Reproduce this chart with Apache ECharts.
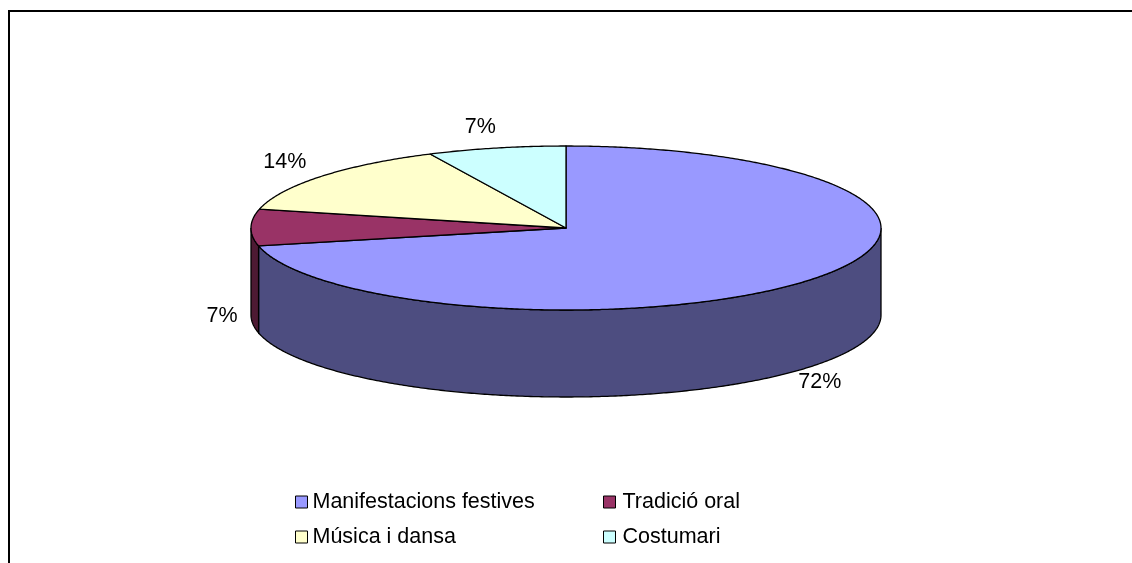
<!DOCTYPE html>
<html>
<head>
<meta charset="utf-8">
<title>Pie</title>
<script src="https://cdn.jsdelivr.net/npm/echarts@6/dist/echarts.min.js"></script>
<style>
html, body { margin: 0; padding: 0; background: #fff; }
#chart { width: 1132px; height: 563px; }
</style>
</head>
<body>
<div id="chart"></div>
<script>
const categories = ['Manifestacions festives', 'Tradició oral', 'Música i dansa', 'Costumari'];
// they round to the printed labels
const shares = [71.5, 7.2, 14.2, 7.1];
const topColors = ['#9999ff', '#993366', '#ffffcc', '#ccffff'];
const sideColors = ['#4d4d80', '#4d1a33', '#808066', '#668080'];
const labelShift = [[8, 16], [-29, 2], [-36, -14], [-16, -21]];

// the tilted disc
const cx = 566, cy = 228, rx = 315, ry = 82, depth = 87;
const total = shares.reduce((a, b) => a + b, 0);

function rim(deg, drop) {
    const t = deg * Math.PI / 180;
    return [cx + rx * Math.sin(t), cy - ry * Math.cos(t) + (drop || 0)];
}

function arcPoints(from, to, drop) {
    const pts = [];
    const steps = Math.max(2, Math.ceil(Math.abs(to - from) * 2));
    for (let i = 0; i <= steps; i++) {
        pts.push(rim(from + (to - from) * i / steps, drop));
    }
    return pts;
}

function sliceRenderer(index) {
    return function (params, api) {
        const before = shares.slice(0, index).reduce((a, b) => a + b, 0);
        const from = before / total * 360;
        const to = from + api.value(0) / total * 360;
        const children = [];
        // side wall only shows on the front half of the disc
        const wallFrom = Math.max(from, 90);
        const wallTo = Math.min(to, 270);
        if (wallTo > wallFrom) {
            const upper = arcPoints(wallFrom, wallTo, 0);
            const lower = arcPoints(wallFrom, wallTo, depth).reverse();
            children.push({
                type: 'polygon',
                shape: { points: upper.concat(lower) },
                style: { fill: sideColors[index], stroke: '#000', lineWidth: 1.3 }
            });
        }
        children.push({
            type: 'polygon',
            shape: { points: [[cx, cy]].concat(arcPoints(from, to, 0)) },
            style: { fill: topColors[index], stroke: '#000', lineWidth: 1.3, lineJoin: 'round' }
        });
        const mid = (from + to) / 2;
        const anchor = rim(mid, mid > 90 && mid < 275 ? depth : 0);
        children.push({
            type: 'text',
            style: {
                x: anchor[0] + labelShift[index][0],
                y: anchor[1] + labelShift[index][1],
                text: Math.round(api.value(0)) + '%',
                fill: '#000',
                font: '21.5px "Liberation Sans", Arial, sans-serif',
                align: 'center',
                verticalAlign: 'middle'
            }
        });
        return { type: 'group', children: children };
    };
}

const chart = echarts.init(document.getElementById('chart'), null, { renderer: 'canvas' });

const legendFont = { color: '#000', fontFamily: '"Liberation Sans", Arial, sans-serif', fontSize: 21.5 };
const legendBase = {
    orient: 'vertical',
    top: 491,
    itemWidth: 12,
    itemHeight: 12,
    itemGap: 13,
    padding: 0,
    icon: 'rect',
    itemStyle: { borderColor: '#000', borderWidth: 1 },
    selectedMode: false
};

chart.setOption({
    animation: false,
    backgroundColor: '#fff',
    legend: [
        Object.assign({}, legendBase, {
            left: 295,
            data: [categories[0], categories[2]],
            textStyle: Object.assign({ padding: [2, 0, 0, 0] }, legendFont)
        }),
        Object.assign({}, legendBase, {
            left: 603,
            data: [categories[1], categories[3]],
            textStyle: Object.assign({ padding: [2, 0, 0, 2] }, legendFont)
        })
    ],
    graphic: [{
        type: 'polyline',
        shape: { points: [[9, 563], [9, 11], [1132, 11]] },
        style: { fill: null, stroke: '#000', lineWidth: 2 }
    }],
    series: categories.map((name, i) => ({
        type: 'custom',
        name: name,
        coordinateSystem: 'none',
        itemStyle: { color: topColors[i] },
        renderItem: sliceRenderer(i),
        data: [[shares[i]]]
    }))
});

window.addEventListener('resize', () => chart.resize());
</script>
</body>
</html>
